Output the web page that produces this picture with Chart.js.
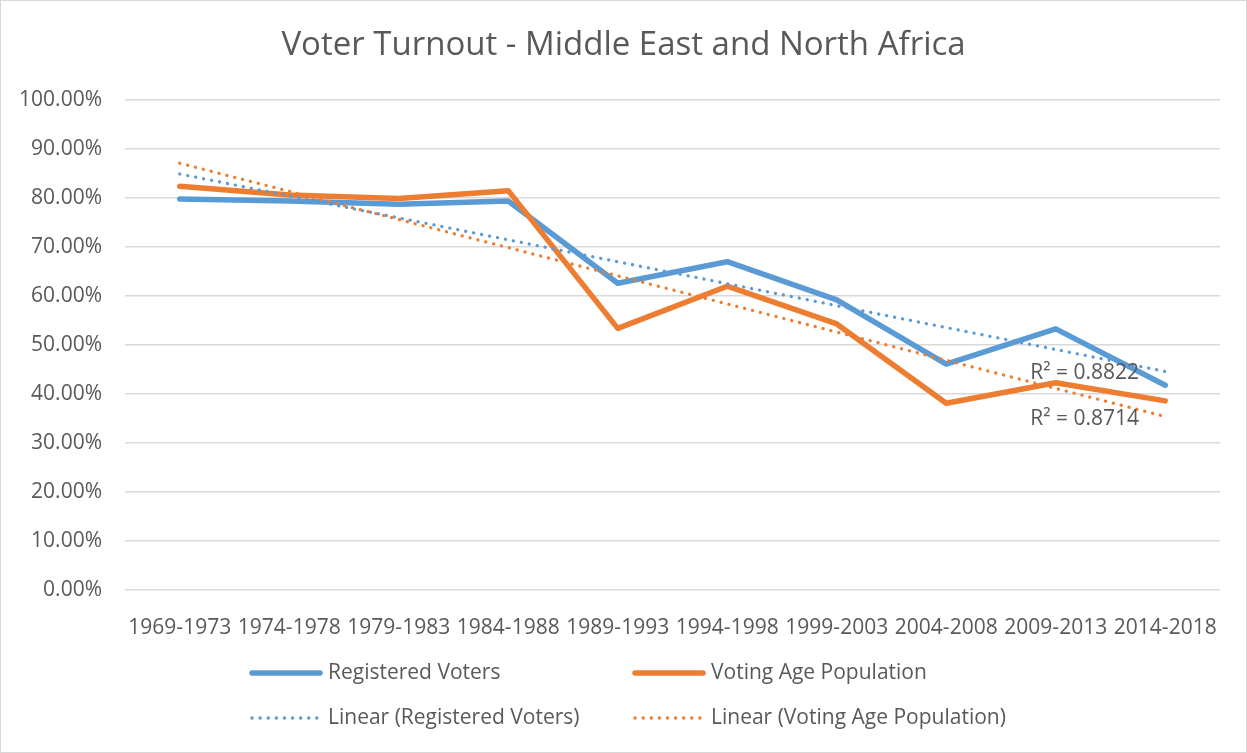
<!DOCTYPE html>
<html>
<head>
<meta charset="utf-8">
<script src="https://cdn.jsdelivr.net/npm/chart.js@4/dist/chart.umd.min.js"></script>
<style>
  body { margin: 0; background: #fff; }
  #wrap { width: 1247px; height: 753px; }
</style>
</head>
<body>
<div id="wrap"><canvas id="myChart" width="1247" height="753"></canvas></div>
<script>
/* Data */
const periods = ['1969-1973', '1974-1978', '1979-1983', '1984-1988', '1989-1993',
  '1994-1998', '1999-2003', '2004-2008', '2009-2013', '2014-2018'];
const registeredVoters = [79.8, 79.4, 78.7, 79.4, 62.6, 67.0, 59.2, 46.1, 53.3, 41.8];
const votingAgePopulation = [82.4, 80.6, 79.9, 81.5, 53.4, 62.0, 54.3, 38.1, 42.3, 38.6];
// linear trend lines: value at first and last period
const trendRegistered = [84.9, 44.6];
const trendVotingAge = [87.1, 35.4];
const rSquaredLabels = ['R² = 0.8822', 'R² = 0.8714'];
const yTicks = [0, 10, 20, 30, 40, 50, 60, 70, 80, 90, 100];
const chartTitle = 'Voter Turnout - Middle East and North Africa';

const BLUE = '#5b9bd5';
const ORANGE = '#ed7d31';
const TEXT = '#595959';
const FONT = "'Open Sans', sans-serif";

// put the two trend ends on the first and last category, gaps in between
function trendSeries(ends) {
  const arr = periods.map(() => null);
  arr[0] = ends[0];
  arr[periods.length - 1] = ends[1];
  return arr;
}

const rSquaredPlugin = {
  id: 'rSquared',
  afterDatasetsDraw(chart) {
    const ctx = chart.ctx;
    const x = chart.scales.x.getPixelForValue(periods.length - 1) - 135;
    const ends = [trendRegistered[1], trendVotingAge[1]];
    ctx.save();
    ctx.font = '21px ' + FONT;
    ctx.fillStyle = TEXT;
    ctx.textAlign = 'left';
    ctx.textBaseline = 'middle';
    ends.forEach((v, i) => {
      ctx.fillText(rSquaredLabels[i], x, chart.scales.y.getPixelForValue(v) + 2);
    });
    ctx.restore();
  }
};

// title centred on the whole canvas + 2x2 legend + outer border, Excel style
const decorPlugin = {
  id: 'excelDecor',
  afterDraw(chart) {
    const ctx = chart.ctx;
    ctx.save();
    ctx.font = '33px ' + FONT;
    ctx.fillStyle = TEXT;
    ctx.textAlign = 'center';
    ctx.textBaseline = 'middle';
    ctx.fillText(chartTitle, chart.width / 2, 46);

    const cols = [250, 633];
    const rows = [673, 718];
    ctx.font = '21px ' + FONT;
    ctx.textAlign = 'left';
    chart.data.datasets.forEach((ds, i) => {
      const cx = cols[i % 2];
      const cy = rows[Math.floor(i / 2)];
      ctx.beginPath();
      ctx.strokeStyle = ds.borderColor;
      ctx.lineWidth = ds.borderWidth;
      ctx.lineCap = 'round';
      ctx.setLineDash(ds.borderDash || []);
      ctx.moveTo(cx + 2, cy);
      ctx.lineTo(cx + 70, cy);
      ctx.stroke();
      ctx.setLineDash([]);
      ctx.fillStyle = TEXT;
      ctx.fillText(ds.label, cx + 78, cy);
    });

    ctx.strokeStyle = '#d9d9d9';
    ctx.lineWidth = 1;
    ctx.strokeRect(0.5, 0.5, chart.width - 1, chart.height - 1);
    ctx.restore();
  }
};

function initChart() {
  const ctx = document.getElementById('myChart').getContext('2d');

  // eslint-disable-next-line no-unused-vars
  const myChart = new Chart(ctx, {
    type: 'line',
    data: {
      labels: periods,
      datasets: [{
        label: 'Registered Voters',
        data: registeredVoters,
        borderColor: BLUE,
        borderWidth: 5.5,
        order: 3,
      },
      {
        label: 'Voting Age Population',
        data: votingAgePopulation,
        borderColor: ORANGE,
        borderWidth: 5.5,
        order: 2,
      },
      {
        label: 'Linear (Registered Voters)',
        data: trendSeries(trendRegistered),
        borderColor: BLUE,
        borderWidth: 3.3,
        borderDash: [0.1, 8],
        spanGaps: true,
        order: 1,
      },
      {
        label: 'Linear (Voting Age Population)',
        data: trendSeries(trendVotingAge),
        borderColor: ORANGE,
        borderWidth: 3.3,
        borderDash: [0.1, 8],
        spanGaps: true,
        order: 0,
      }]
    },
    options: {
      responsive: false,
      animation: false,
      devicePixelRatio: 1,
      layout: { padding: { left: 0, right: 27, top: 100, bottom: 113 } },
      elements: {
        point: { radius: 0 },
        line: { tension: 0, borderCapStyle: 'round', borderJoinStyle: 'round', fill: false },
      },
      plugins: {
        legend: { display: false },
        tooltip: { enabled: false },
        title: { display: false },
      },
      scales: {
        x: {
          offset: true,
          grid: { display: false },
          border: { display: false },
          ticks: {
            color: TEXT,
            font: { family: FONT, size: 21 },
            padding: 17,
            maxRotation: 0,
            autoSkip: false,
          },
          afterFit(scale) { scale.height = 50; },
        },
        y: {
          min: 0,
          max: 100,
          afterBuildTicks(scale) { scale.ticks = yTicks.map(v => ({ value: v })); },
          grid: { color: '#d9d9d9', lineWidth: 1.5, drawTicks: false },
          border: { display: false },
          ticks: {
            color: TEXT,
            font: { family: FONT, size: 21 },
            padding: 23,
            callback: v => v.toFixed(2) + '%',
          },
          afterFit(scale) { scale.width = 125; },
        },
      },
    },
    plugins: [rSquaredPlugin, decorPlugin],
  });
}

const app = () => {
  initChart();
};

app();
</script>
</body>
</html>
